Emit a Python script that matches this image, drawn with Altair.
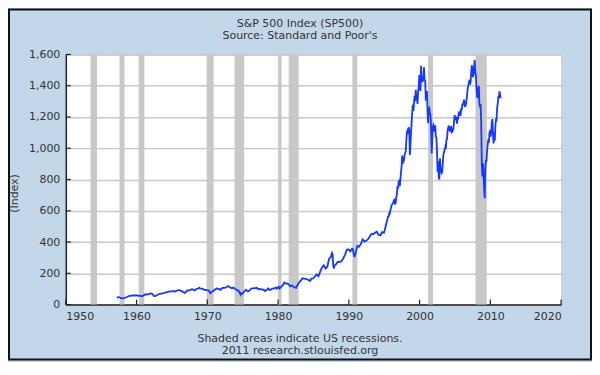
import altair as alt
import pandas as pd

# ---- data ----
dates = [
    "1957-03","1957-06","1957-07","1957-10","1957-12",
    "1958-03","1958-06","1958-09","1958-12",
    "1959-03","1959-06","1959-07","1959-09","1959-12",
    "1960-03","1960-06","1960-09","1960-10","1960-12",
    "1961-03","1961-06","1961-09","1961-12",
    "1962-03","1962-06","1962-09","1962-12",
    "1963-03","1963-06","1963-09","1963-12",
    "1964-03","1964-06","1964-09","1964-12",
    "1965-03","1965-06","1965-09","1965-12",
    "1966-01","1966-03","1966-06","1966-09","1966-10","1966-12",
    "1967-03","1967-06","1967-09","1967-12",
    "1968-03","1968-06","1968-09","1968-11","1968-12",
    "1969-03","1969-06","1969-09","1969-12",
    "1970-03","1970-05","1970-06","1970-09","1970-12",
    "1971-03","1971-04","1971-06","1971-09","1971-11","1971-12",
    "1972-03","1972-06","1972-09","1972-12",
    "1973-01","1973-03","1973-06","1973-09","1973-12",
    "1974-03","1974-06","1974-09","1974-10","1974-12",
    "1975-03","1975-06","1975-09","1975-12",
    "1976-03","1976-06","1976-09","1976-12",
    "1977-03","1977-06","1977-09","1977-12",
    "1978-02","1978-03","1978-06","1978-08","1978-10","1978-12",
    "1979-03","1979-06","1979-09","1979-10","1979-12",
    "1980-02","1980-03","1980-06","1980-09","1980-11","1980-12",
    "1981-03","1981-06","1981-09","1981-12",
    "1982-03","1982-07","1982-08","1982-09","1982-12",
    "1983-03","1983-06","1983-09","1983-12",
    "1984-03","1984-06","1984-07","1984-09","1984-12",
    "1985-03","1985-06","1985-09","1985-12",
    "1986-03","1986-06","1986-09","1986-12",
    "1987-03","1987-06","1987-08","1987-09","1987-10","1987-11","1987-12",
    "1988-03","1988-06","1988-09","1988-12",
    "1989-03","1989-06","1989-09","1989-12",
    "1990-03","1990-06","1990-07","1990-10","1990-12",
    "1991-03","1991-06","1991-09","1991-12",
    "1992-03","1992-06","1992-09","1992-12",
    "1993-03","1993-06","1993-09","1993-12",
    "1994-03","1994-06","1994-09","1994-12",
    "1995-01","1995-02","1995-03","1995-04","1995-05","1995-06","1995-07","1995-08","1995-09","1995-10","1995-11","1995-12",
    "1996-01","1996-02","1996-03","1996-04","1996-05","1996-06","1996-07","1996-08","1996-09","1996-10","1996-11","1996-12",
    "1997-01","1997-02","1997-03","1997-04","1997-05","1997-06","1997-07","1997-08","1997-09","1997-10","1997-11","1997-12",
    "1998-01","1998-02","1998-03","1998-04","1998-05","1998-06","1998-07","1998-08","1998-09","1998-10","1998-11","1998-12",
    "1999-01","1999-02","1999-03","1999-04","1999-05","1999-06","1999-07","1999-08","1999-09","1999-10","1999-11","1999-12",
    "2000-01","2000-02","2000-03","2000-04","2000-05","2000-06","2000-07","2000-08","2000-09","2000-10","2000-11","2000-12",
    "2001-01","2001-02","2001-03","2001-04","2001-05","2001-06","2001-07","2001-08","2001-09","2001-10","2001-11","2001-12",
    "2002-01","2002-02","2002-03","2002-04","2002-05","2002-06","2002-07","2002-08","2002-09","2002-10","2002-11","2002-12",
    "2003-01","2003-02","2003-03","2003-04","2003-05","2003-06","2003-07","2003-08","2003-09","2003-10","2003-11","2003-12",
    "2004-01","2004-02","2004-03","2004-04","2004-05","2004-06","2004-07","2004-08","2004-09","2004-10","2004-11","2004-12",
    "2005-01","2005-02","2005-03","2005-04","2005-05","2005-06","2005-07","2005-08","2005-09","2005-10","2005-11","2005-12",
    "2006-01","2006-02","2006-03","2006-04","2006-05","2006-06","2006-07","2006-08","2006-09","2006-10","2006-11","2006-12",
    "2007-01","2007-02","2007-03","2007-04","2007-05","2007-06","2007-07","2007-08","2007-09","2007-10","2007-11","2007-12",
    "2008-01","2008-02","2008-03","2008-04","2008-05","2008-06","2008-07","2008-08","2008-09","2008-10","2008-11","2008-12",
    "2009-01","2009-02","2009-03","2009-04","2009-05","2009-06","2009-07","2009-08","2009-09","2009-10","2009-11","2009-12",
    "2010-01","2010-02","2010-03","2010-04","2010-05","2010-06","2010-07","2010-08","2010-09","2010-10","2010-11","2010-12",
    "2011-01","2011-02","2011-03","2011-04","2011-05","2011-06",
]
sp500 = [
    44.1,47.4,47.9,41.0,40.0,
    42.1,45.2,50.0,55.2,
    55.4,58.5,60.5,56.9,59.9,
    55.3,56.9,53.5,53.4,58.1,
    65.1,64.6,66.7,71.6,
    69.6,54.8,56.3,63.1,
    66.6,69.4,71.7,75.0,
    78.9,81.7,84.2,84.8,
    86.2,84.1,90.0,92.4,
    92.9,89.2,84.7,77.0,74.0,80.3,
    90.2,90.6,96.7,96.5,
    90.2,99.6,102.7,108.4,103.9,
    101.5,97.7,93.1,92.1,
    89.6,76.6,72.7,84.2,92.2,
    100.3,103.9,99.7,98.3,94.0,102.1,
    107.2,107.1,110.6,118.1,
    116.0,111.5,104.3,108.4,97.6,
    94.0,86.0,63.5,73.9,68.6,
    83.4,95.2,83.9,90.2,
    102.8,104.3,105.2,107.5,
    98.4,100.5,96.5,95.1,
    87.0,89.2,95.5,103.3,93.2,96.1,
    101.6,102.9,109.3,101.8,107.9,
    113.7,102.1,114.2,125.5,140.5,135.8,
    136.0,131.2,116.2,122.6,
    112.0,107.1,119.5,120.4,140.6,
    153.0,168.1,166.1,164.9,
    159.2,153.2,150.7,166.1,167.2,
    181.0,192.0,182.0,211.0,
    238.0,251.0,231.0,242.0,
    292.0,304.0,330.0,322.0,252.0,230.0,247.0,
    259.0,274.0,272.0,278.0,
    295.0,318.0,349.0,353.0,
    340.0,358.0,356.0,304.0,330.0,
    375.0,371.0,388.0,417.0,
    404.0,408.0,418.0,436.0,
    452.0,451.0,459.0,466.0,
    446.0,444.0,463.0,459.0,
    470,487,501,515,533,545,562,562,584,582,605,616,
    636,640,646,654,669,671,640,652,687,705,757,741,
    786,791,757,801,848,885,954,899,947,915,955,970,
    980,1049,1102,1112,1091,1134,1121,957,1017,1099,1164,1229,
    1280,1238,1286,1335,1302,1373,1329,1320,1283,1363,1389,1469,
    1394,1366,1527,1452,1421,1455,1431,1518,1437,1429,1315,1320,
    1366,1240,1160,1249,1256,1224,1211,1134,966,1060,1139,1148,
    1130,1107,1147,1077,1067,990,850,916,815,800,936,880,
    856,841,848,917,964,975,990,1008,996,1051,1058,1112,
    1131,1145,1126,1107,1121,1141,1102,1104,1115,1130,1174,1212,
    1181,1204,1181,1157,1192,1191,1234,1220,1229,1207,1249,1248,
    1280,1281,1295,1311,1270,1270,1277,1304,1336,1378,1401,1418,
    1438,1407,1421,1482,1531,1503,1455,1474,1527,1565,1481,1468,
    1379,1331,1323,1386,1400,1280,1267,1283,1166,900,820,903,
    826,735,680,873,919,919,987,1021,1057,1036,1096,1115,
    1074,1104,1169,1187,1089,1031,1102,1049,1141,1183,1181,1258,
    1286,1327,1326,1364,1345,1321,
]

rec_start = [1953.5, 1957.6, 1960.3, 1969.9, 1973.85, 1980.0, 1981.5, 1990.5, 2001.2, 2007.9]
rec_end   = [1954.4, 1958.3, 1961.1, 1970.9, 1975.2, 1980.5, 1982.9, 1991.2, 2001.9, 2009.5]

x_ticks = [1950, 1960, 1970, 1980, 1990, 2000, 2010, 2020]
y_ticks = [0, 200, 400, 600, 800, 1000, 1200, 1400, 1600]

title_lines = ["S&P 500 Index (SP500)", "Source: Standard and Poor's"]
footer_lines = ["Shaded areas indicate US recessions.", "2011 research.stlouisfed.org"]

# ---- tables ----
yr = [int(d[:4]) + (int(d[5:7]) - 0.5) / 12 for d in dates]
line_df = pd.DataFrame({"year": yr, "value": sp500})
rec_df = pd.DataFrame({"start": rec_start, "end": rec_end})
tick_df = pd.DataFrame({"year": x_ticks})
ytick_df = pd.DataFrame({"v": y_ticks})
one = pd.DataFrame({"k": [0]})

W, H = 497, 251
FONT = "DejaVu Sans"
TXT = "#333333"
CX = 235  # horizontal centre of the framed chart, in plot coordinates

xscale = alt.Scale(domain=[1950, 2020], nice=False, zero=False)
yscale = alt.Scale(domain=[0, 1600], nice=False)

x_axis = alt.Axis(
    values=x_ticks, format="d", grid=False, tickSize=0, labelPadding=6,
    labelFont=FONT, labelFontSize=11, labelColor=TXT, domainColor="#222222",
    domainWidth=1.5, title=None, labelOverlap=False,
)
y_axis = alt.Axis(
    values=y_ticks, format=",d", grid=True, labelOverlap=False,
    gridColor="#c8c8c8", gridWidth=1.5, tickSize=0, labelPadding=6,
    labelFont=FONT, labelFontSize=11, labelColor=TXT, domainColor="#222222",
    domainWidth=1.5, title="(Index)", titleFont=FONT, titleFontSize=11,
    titleFontWeight="normal", titleColor=TXT, titleX=-51, titleY=139,
    titleAngle=-90, titleBaseline="middle",
)

frame = alt.Chart(one).mark_rect(
    fill=None, stroke="#111111", strokeWidth=2, clip=False
).encode(
    x=alt.value(-57), x2=alt.value(W + 30),
    y=alt.value(-45), y2=alt.value(H + 55),
)

rec = alt.Chart(rec_df).mark_rect(color="#c8c8c8").encode(
    x=alt.X("start:Q", scale=xscale, axis=x_axis),
    x2="end:Q",
    y=alt.value(0), y2=alt.value(H),
)

line = alt.Chart(line_df).mark_line(color="#1438ff", strokeWidth=1.8).encode(
    x=alt.X("year:Q", scale=xscale, axis=x_axis),
    y=alt.Y("value:Q", scale=yscale, axis=y_axis),
)

xticks = alt.Chart(tick_df).mark_rule(color="#222222", strokeWidth=1.2).encode(
    x=alt.X("year:Q", scale=xscale, axis=x_axis),
    y=alt.value(H), y2=alt.value(H - 5),
)
yticks = alt.Chart(ytick_df).mark_rule(color="#222222", strokeWidth=1.2).encode(
    y=alt.Y("v:Q", scale=yscale, axis=y_axis),
    x=alt.value(0), x2=alt.value(5),
)

def label(txt, ypos):
    return alt.Chart(one).mark_text(
        font=FONT, fontSize=11, color=TXT, align="center", baseline="middle",
        clip=False,
    ).encode(x=alt.value(CX), y=alt.value(ypos), text=alt.value(txt))

texts = [
    label(title_lines[0], -31),
    label(title_lines[1], -18),
    label(footer_lines[0], H + 35),
    label(footer_lines[1], H + 47),
]

chart = alt.layer(frame, rec, line, xticks, yticks, *texts).properties(
    width=W, height=H,
    background="#c3d7ea",
    padding={"left": 58, "top": 46, "right": 31, "bottom": 57},
    autosize=alt.AutoSizeParams(type="none"),
).configure_view(
    fill="white", stroke="#c8c8c8", strokeWidth=1
)

chart.save("out.html", embed_options={"renderer": "svg", "actions": False})
